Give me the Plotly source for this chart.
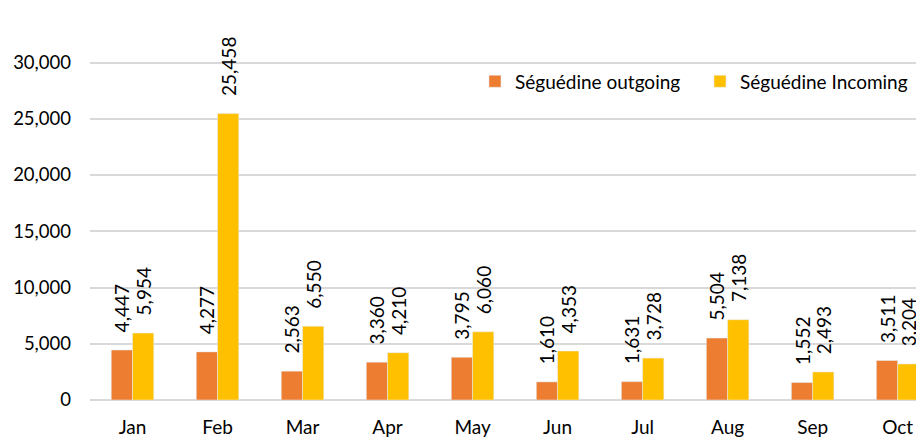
import plotly.graph_objects as go

months = ["Jan", "Feb", "Mar", "Apr", "May", "Jun", "Jul", "Aug", "Sep", "Oct"]
outgoing = [4447, 4277, 2563, 3360, 3795, 1610, 1631, 5504, 1552, 3511]
incoming = [5954, 25458, 6550, 4210, 6060, 4353, 3728, 7138, 2493, 3204]
y_ticks = [0, 5000, 10000, 15000, 20000, 25000, 30000]

FONT = "Lato, 'Open Sans', sans-serif"
LABEL = "\u00a0\u00a0\u00a0%{y:,}"

fig = go.Figure()
fig.add_trace(go.Bar(
    x=months, y=outgoing, name="Séguédine outgoing",
    marker=dict(color="#ED7D31"),
    texttemplate=LABEL, textposition="outside", textangle=-90,
    constraintext="none",
    textfont=dict(size=19, color="#000000", family=FONT),
    cliponaxis=False,
))
fig.add_trace(go.Bar(
    x=months, y=incoming, name="Séguédine Incoming",
    marker=dict(color="#FFC000"),
    texttemplate=LABEL, textposition="outside", textangle=-90,
    constraintext="none",
    textfont=dict(size=19, color="#000000", family=FONT),
    cliponaxis=False,
))

fig.update_layout(
    width=924, height=441,
    margin=dict(l=82, r=8, t=32, b=49, autoexpand=False),
    paper_bgcolor="white", plot_bgcolor="white",
    barmode="group", bargap=0.5, bargroupgap=0,
    font=dict(family=FONT, size=18, color="#000000"),
    showlegend=True,
    legend=dict(orientation="h", x=0.4616, y=0.885, xanchor="left", yanchor="middle",
                font=dict(size=19, family=FONT), bgcolor="rgba(0,0,0,0)",
                itemwidth=30, entrywidth=180, traceorder="normal"),
    uniformtext=dict(mode=False),
)
fig.update_xaxes(range=[-0.5, 9.31], showgrid=False, showline=False, ticks="",
                 automargin=False, ticklabelstandoff=14,
                 tickfont=dict(size=19, family=FONT))
fig.update_yaxes(range=[0, 32000], tickvals=y_ticks, tickformat=",",
                 showgrid=True, gridcolor="#D9D9D9", gridwidth=1.5,
                 zeroline=True, zerolinecolor="#D9D9D9", zerolinewidth=1.5,
                 showline=False, ticks="", ticklabelstandoff=18, automargin=False,
                 tickfont=dict(size=18.5, family=FONT))

fig.write_html("out.html")
